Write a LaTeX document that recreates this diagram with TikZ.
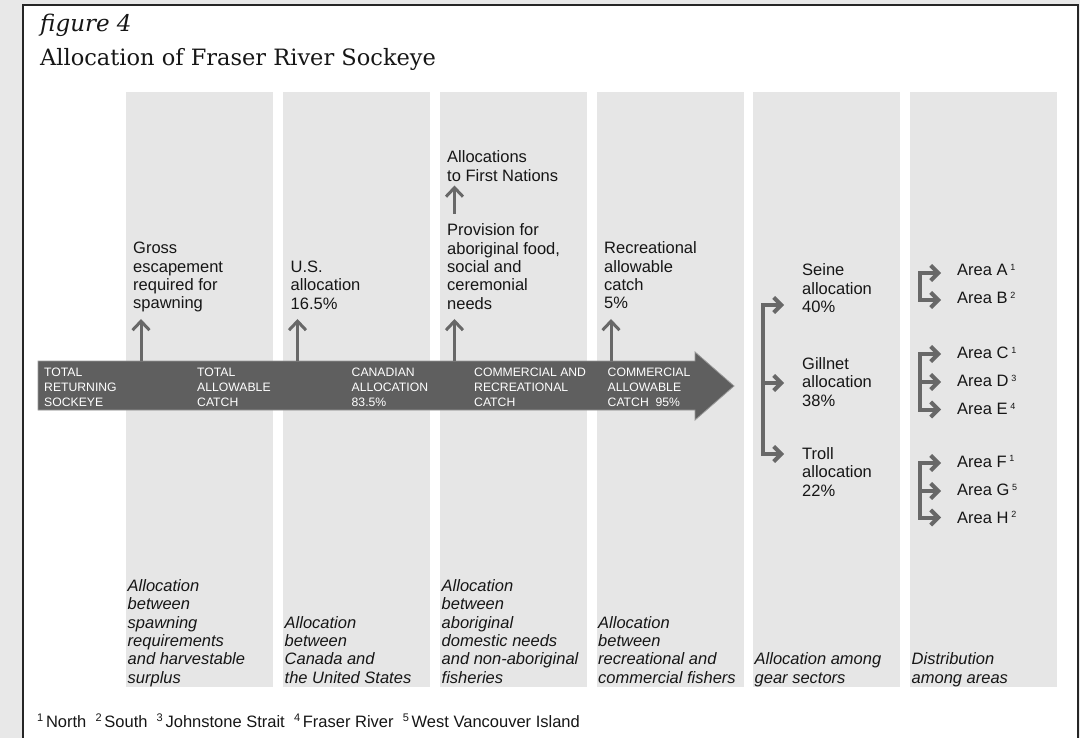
\documentclass[tikz,border=0pt]{standalone}
\usepackage{fontspec}
\newfontfamily\sansf{Liberation Sans}
\newfontfamily\serf{DejaVu Serif}
\usetikzlibrary{arrows.meta}
\definecolor{outbg}{HTML}{E8E8E8}
\definecolor{colfill}{HTML}{E6E6E6}
\definecolor{bigarrow}{HTML}{5F5F5F}
\definecolor{arrowgray}{HTML}{686868}
\definecolor{txt}{HTML}{161616}
\newcommand\stktop[1]{\vtop{\baselineskip=18.3pt\lineskip=0pt\lineskiplimit=-20pt\halign{##\hfil\cr#1\crcr}}}
\newcommand\stkbot[1]{\vbox{\baselineskip=18.3pt\lineskip=0pt\lineskiplimit=-20pt\halign{##\hfil\cr#1\crcr}}}
\newcommand\stkcap[1]{\vtop{\baselineskip=15pt\lineskip=0pt\lineskiplimit=-20pt\halign{##\hfil\cr#1\crcr}}}
\newcommand\supnum[1]{\,{\fontsize{9}{9}\selectfont\raisebox{5.5pt}{#1}}}
\newcommand\fnnum[1]{{\fontsize{11}{11}\selectfont\raisebox{5.5pt}{#1}}\,}
\tikzset{
  col/.style={fill=colfill, draw=none},
  lbl/.style={anchor=base west, inner sep=0, text=txt, font=\sansf\fontsize{16.5}{18.3}\selectfont},
  ital/.style={lbl, font=\sansf\itshape\fontsize{16.5}{18.3}\selectfont},
  caps/.style={anchor=base west, inner sep=0, text=white, font=\sansf\fontsize{12.2}{15}\selectfont},
  uparr/.style={draw=arrowgray, line width=3pt, -{Straight Barb[length=9pt,width=17pt]}},
  brk/.style={draw=arrowgray, line width=4pt, line cap=rect},
  brkarr/.style={draw=arrowgray, line width=4pt, -{Straight Barb[length=7.5pt,width=15pt]}},
}
\begin{document}
\begin{tikzpicture}[x=1pt,y=-1pt]
\useasboundingbox (0,0) rectangle (1080,738);
\fill[outbg] (0,0) rectangle (1080,738);
\begin{scope}
\clip (0,0) rectangle (1080,738);
\draw[draw=black!85, fill=white, line width=2pt] (23,5) rectangle (1078,750);
\end{scope}

% title
\node[anchor=base west, inner sep=0, text=txt, font=\serf\itshape\fontsize{23}{23}\selectfont] (fig) at (40,32) {figure 4};
\node[anchor=base west, inner sep=0, text=txt, font=\serf\fontsize{22.5}{23}\selectfont] (title) at (40,66) {Allocation of Fraser River Sockeye};

% columns
\foreach \cx/\nm in {126/c1, 283/c2, 440/c3, 596.5/c4, 753/c5, 910/c6}
  \fill[col] (\cx,92) rectangle ++(147,594.7);

% big arrow
\draw[fill=bigarrow, draw=black!40, line width=0.8pt]
  (38,361) -- (695,361) -- (695,352) -- (734,386) -- (695,420) -- (695,410) -- (38,410) -- cycle;
\node[caps] (a1) at (44,376.7) {\stkcap{TOTAL\cr RETURNING\cr SOCKEYE}};
\node[caps] (a2) at (197,376.7) {\stkcap{TOTAL\cr ALLOWABLE\cr CATCH}};
\node[caps] (a3) at (351.5,376.7) {\stkcap{CANADIAN\cr ALLOCATION\cr 83.5\%}};
\node[caps] (a4) at (474,376.7) {\stkcap{COMMERCIAL AND\cr RECREATIONAL\cr CATCH}};
\node[caps] (a5) at (607.5,376.7) {\stkcap{COMMERCIAL\cr ALLOWABLE\cr CATCH\ \ 95\%}};

% upper labels
\node[lbl] (gross) at (133,254) {\stktop{Gross\cr escapement\cr required for\cr spawning}};
\node[lbl] (us) at (290.5,272.5) {\stktop{U.S.\cr allocation\cr 16.5\%}};
\node[lbl] (fn1) at (447,163) {\stktop{Allocations\cr to First Nations}};
\node[lbl] (prov) at (447,236) {\stktop{Provision for\cr aboriginal food,\cr social and\cr ceremonial\cr needs}};
\node[lbl] (rec) at (604,254) {\stktop{Recreational\cr allowable\cr catch\cr 5\%}};

\coordinate (g0) at (141,361);  \coordinate (g1) at (141,319);
\coordinate (u0) at (297.5,361); \coordinate (u1) at (297.5,319);
\coordinate (p0) at (454.5,361); \coordinate (p1) at (454.5,319);
\coordinate (f0) at (454.5,214); \coordinate (f1) at (454.5,185.5);
\coordinate (r0) at (611,361);  \coordinate (r1) at (611,319);
\draw[uparr] (g0) -- (g1);
\draw[uparr] (u0) -- (u1);
\draw[uparr] (p0) -- (p1);
\draw[uparr] (f0) -- (f1);
\draw[uparr] (r0) -- (r1);

% gear sectors
\node[lbl] (seine) at (802,276) {\stktop{Seine\cr allocation\cr 40\%}};
\node[lbl] (gill) at (802,369.5) {\stktop{Gillnet\cr allocation\cr 38\%}};
\node[lbl] (troll) at (802,459.5) {\stktop{Troll\cr allocation\cr 22\%}};
\coordinate (s0) at (763.3,305); \coordinate (s1) at (784,305);
\coordinate (m0) at (763.3,383); \coordinate (m1) at (784,383);
\coordinate (t0) at (763.3,454); \coordinate (t1) at (784,454);
\draw[brk] (s0) -- (t0);
\draw[brkarr] ([xshift=-2pt]s0) -- (s1);
\draw[brkarr] ([xshift=-2pt]m0) -- (m1);
\draw[brkarr] ([xshift=-2pt]t0) -- (t1);

% areas
\node[lbl] (arA) at (957,276) {Area A\supnum{1}};
\node[lbl] (arB) at (957,304) {Area B\supnum{2}};
\node[lbl] (arC) at (957,358.5) {Area C\supnum{1}};
\node[lbl] (arD) at (957,386.5) {Area D\supnum{3}};
\node[lbl] (arE) at (957,414.5) {Area E\supnum{4}};
\node[lbl] (arF) at (957,467) {Area F\supnum{1}};
\node[lbl] (arG) at (957,495.5) {Area G\supnum{5}};
\node[lbl] (arH) at (957,523) {Area H\supnum{2}};
\foreach \nm/\yy in {A/273, B/300, C/354, D/382, E/409.5, F/463, G/491, H/517.5}{
  \coordinate (k\nm) at (920,\yy);
  \coordinate (e\nm) at (941,\yy);
}
\draw[brk] (kA) -- (kB);
\draw[brk] (kC) -- (kE);
\draw[brk] (kF) -- (kH);
\foreach \nm in {A,B,C,D,E,F,G,H}
  \draw[brkarr] ([xshift=-2pt]k\nm) -- (e\nm);

% bottom italic captions
\node[ital] (b1) at (127.5,683) {\stkbot{Allocation\cr between\cr spawning\cr requirements\cr and harvestable\cr surplus}};
\node[ital] (b2) at (284.5,683) {\stkbot{Allocation\cr between\cr Canada and\cr the United States}};
\node[ital] (b3) at (441.5,683) {\stkbot{Allocation\cr between\cr aboriginal\cr domestic needs\cr and non-aboriginal\cr fisheries}};
\node[ital] (b4) at (598,683) {\stkbot{Allocation\cr between\cr recreational and\cr commercial fishers}};
\node[ital] (b5) at (754.5,683) {\stkbot{Allocation among\cr gear sectors}};
\node[ital] (b6) at (911.5,683) {\stkbot{Distribution\cr among areas}};

% footnote
\node[lbl] (foot) at (37,727) {\fnnum{1}North\ \ \fnnum{2}South\ \ \fnnum{3}Johnstone Strait\ \ \fnnum{4}Fraser River\ \ \fnnum{5}West Vancouver Island};
\end{tikzpicture}
\end{document}
